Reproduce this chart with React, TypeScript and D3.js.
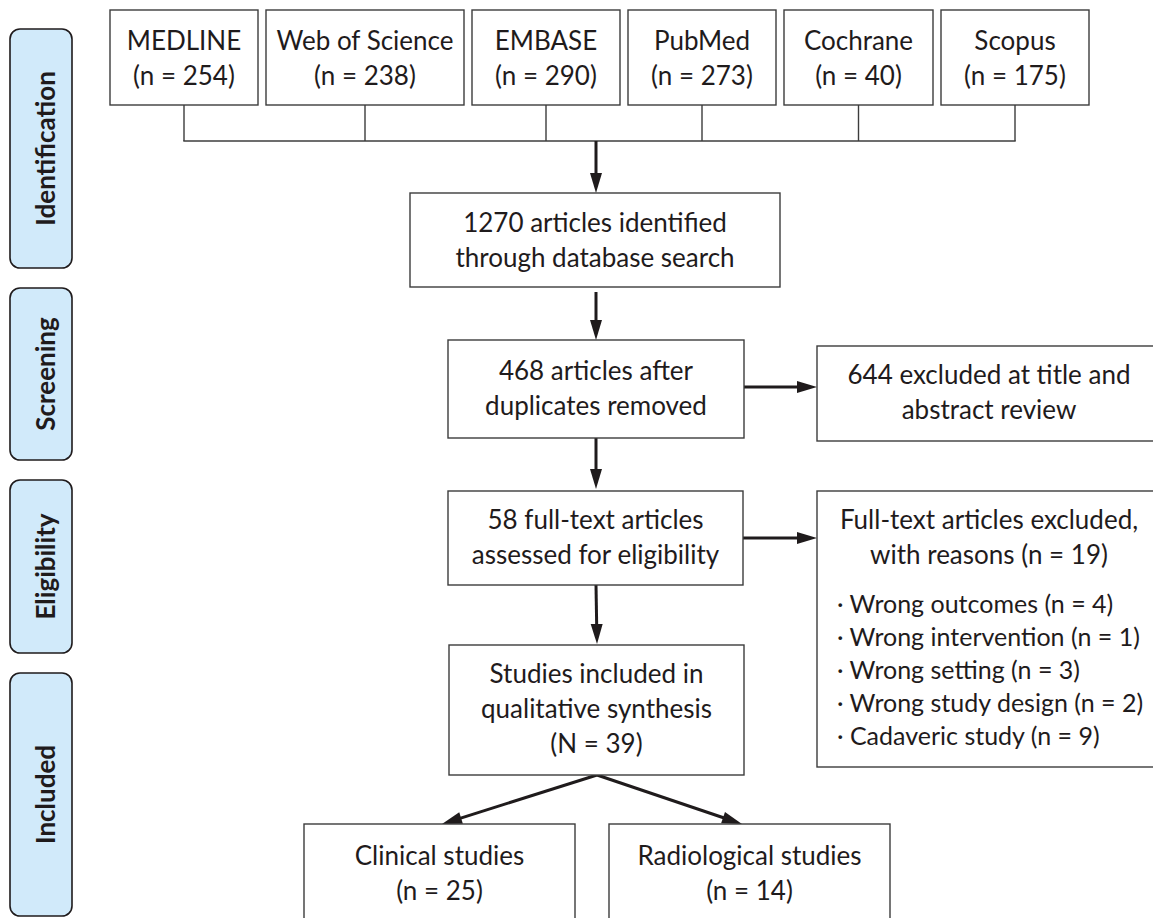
import React from 'react';
import * as d3 from 'd3';

// Data
const databases = ['MEDLINE', 'Web of Science', 'EMBASE', 'PubMed', 'Cochrane', 'Scopus'];
const databaseCounts = [254, 238, 290, 273, 40, 175];
const stages = ['Identification', 'Screening', 'Eligibility', 'Included'];
const identifiedCount = 1270;
const afterDuplicatesCount = 468;
const titleExcludedCount = 644;
const fullTextCount = 58;
const fullTextExcludedCount = 19;
const exclusionReasons = ['Wrong outcomes', 'Wrong intervention', 'Wrong setting', 'Wrong study design', 'Cadaveric study'];
const exclusionCounts = [4, 1, 3, 2, 9];
const includedCount = 39;
const subgroups = ['Clinical studies', 'Radiological studies'];
const subgroupCounts = [25, 14];

// Layout
const W = 1153;
const H = 918;
const INK = '#1f1b1c';
const BORDER = '#3c3c3c';
const FONT = 'Lato, "Noto Sans", sans-serif';
const FS = 26;
const LINE = 35;

const dbWidths = [148, 198, 148, 148, 149, 148];
const dbGap = 8;
const dbLeft = 110;
const dbTop = 10;
const dbBottom = 105;
const bracketY = 141;
const stageSpans: [number, number][] = [[29, 268], [288, 460], [480, 653], [673, 916]];

type Box = { x0: number; x1: number; y0: number; y1: number; cx?: number };

// right-hand boxes run off the page edge, their text centre is set by hand
const boxes: Record<string, Box> = {
  identified: { x0: 410, x1: 780, y0: 193, y1: 287 },
  dedup: { x0: 448, x1: 744, y0: 340, y1: 438 },
  fullText: { x0: 448, x1: 743, y0: 491, y1: 585 },
  titleExcl: { x0: 817, x1: 1170, y0: 346, y1: 441, cx: 989 },
  fullExcl: { x0: 817, x1: 1170, y0: 491, y1: 767, cx: 989 },
  included: { x0: 449, x1: 744, y0: 645, y1: 775 },
  clinical: { x0: 304, x1: 575, y0: 824, y1: 960 },
  radiological: { x0: 609, x1: 890, y0: 824, y1: 960 },
};

const line = d3.line();

function Arrow({ from, to }: { from: [number, number]; to: [number, number] }) {
  const len = 20;
  const half = 6;
  const dx = to[0] - from[0];
  const dy = to[1] - from[1];
  const d = Math.hypot(dx, dy);
  const ux = dx / d;
  const uy = dy / d;
  const base: [number, number] = [to[0] - ux * len, to[1] - uy * len];
  const head: [number, number][] = [
    to,
    [base[0] - uy * half, base[1] + ux * half],
    [base[0] + uy * half, base[1] - ux * half],
  ];
  return (
    <g>
      <path d={line([from, [base[0] + ux * 2, base[1] + uy * 2]]) || ''} stroke={INK} strokeWidth={3} fill="none" />
      <path d={(line(head) || '') + 'Z'} fill={INK} />
    </g>
  );
}

function TextBox({ b, lines, first }: { b: Box; lines: string[]; first: number }) {
  const cx = b.cx ?? (b.x0 + b.x1) / 2;
  return (
    <g>
      <rect x={b.x0} y={b.y0} width={b.x1 - b.x0} height={b.y1 - b.y0} fill="#fff" stroke={BORDER} strokeWidth={1.4} />
      {lines.map((t, i) => (
        <text key={i} x={cx} y={b.y0 + first + i * LINE} textAnchor="middle">{t}</text>
      ))}
    </g>
  );
}

export default function App() {
  const dbRight = d3.cumsum(dbWidths.map((w, i) => w + (i > 0 ? dbGap : 0)));
  const dbBoxes = databases.map((name, i) => {
    const x1 = dbLeft + dbRight[i];
    const x0 = x1 - dbWidths[i];
    return { name, count: databaseCounts[i], x0, x1, cx: (x0 + x1) / 2 };
  });
  const midX = 596;

  return (
    <svg width={W} height={H} style={{ position: 'absolute', left: 0, top: 0, background: '#fff' }}
      fontFamily={FONT} fontSize={FS} fill={INK}>
      {/* stage labels */}
      {stages.map((s, i) => {
        const [y0, y1] = stageSpans[i];
        const cy = (y0 + y1) / 2;
        return (
          <g key={s}>
            <rect x={10} y={y0} width={62} height={y1 - y0} rx={10} ry={10} fill="#d1eafa" stroke={INK} strokeWidth={1.6} />
            <text transform={`translate(46,${cy}) rotate(-90)`} dy="0.35em" textAnchor="middle" fontWeight={700}>{s}</text>
          </g>
        );
      })}

      {/* databases */}
      {dbBoxes.map(b => (
        <g key={b.name}>
          <rect x={b.x0} y={dbTop} width={b.x1 - b.x0} height={dbBottom - dbTop} fill="#fff" stroke={BORDER} strokeWidth={1.4} />
          <text x={b.cx} y={dbTop + 40} textAnchor="middle">{b.name}</text>
          <text x={b.cx} y={dbTop + 75} textAnchor="middle">{`(n = ${b.count})`}</text>
          <path d={line([[b.cx, dbBottom], [b.cx, bracketY]]) || ''} stroke={BORDER} strokeWidth={1.4} fill="none" />
        </g>
      ))}
      <path d={line([[dbBoxes[0].cx - 0.7, bracketY], [dbBoxes[dbBoxes.length - 1].cx + 0.7, bracketY]]) || ''}
        stroke={BORDER} strokeWidth={1.4} fill="none" />

      {/* arrows */}
      <Arrow from={[midX, bracketY]} to={[midX, boxes.identified.y0]} />
      <Arrow from={[midX, boxes.identified.y1 + 5]} to={[midX, boxes.dedup.y0]} />
      <Arrow from={[midX, boxes.dedup.y1]} to={[midX, boxes.fullText.y0 - 2]} />
      <Arrow from={[midX, boxes.fullText.y1]} to={[midX + 1, boxes.included.y0 - 1]} />
      <Arrow from={[boxes.dedup.x1, 387]} to={[boxes.titleExcl.x0, 387]} />
      <Arrow from={[boxes.fullText.x1, 538]} to={[boxes.fullExcl.x0, 538]} />
      <Arrow from={[597, boxes.included.y1]} to={[442, boxes.clinical.y0]} />
      <Arrow from={[597, boxes.included.y1]} to={[742, boxes.radiological.y0]} />

      {/* flow boxes */}
      <TextBox b={boxes.identified} first={39} lines={[`${identifiedCount} articles identified`, 'through database search']} />
      <TextBox b={boxes.dedup} first={40} lines={[`${afterDuplicatesCount} articles after`, 'duplicates removed']} />
      <TextBox b={boxes.fullText} first={38} lines={[`${fullTextCount} full-text articles`, 'assessed for eligibility']} />
      <TextBox b={boxes.titleExcl} first={38} lines={[`${titleExcludedCount} excluded at title and`, 'abstract review']} />
      <TextBox b={boxes.fullExcl} first={38} lines={['Full-text articles excluded,', `with reasons (n = ${fullTextExcludedCount})`]} />
      {exclusionReasons.map((r, i) => (
        <text key={r} x={837} y={613 + i * 33} fontSize={25}>{`\u00b7 ${r} (n = ${exclusionCounts[i]})`}</text>
      ))}
      <TextBox b={boxes.included} first={38} lines={['Studies included in', 'qualitative synthesis', `(N = ${includedCount})`]} />
      <TextBox b={boxes.clinical} first={41} lines={[subgroups[0], `(n = ${subgroupCounts[0]})`]} />
      <TextBox b={boxes.radiological} first={41} lines={[subgroups[1], `(n = ${subgroupCounts[1]})`]} />
    </svg>
  );
}
